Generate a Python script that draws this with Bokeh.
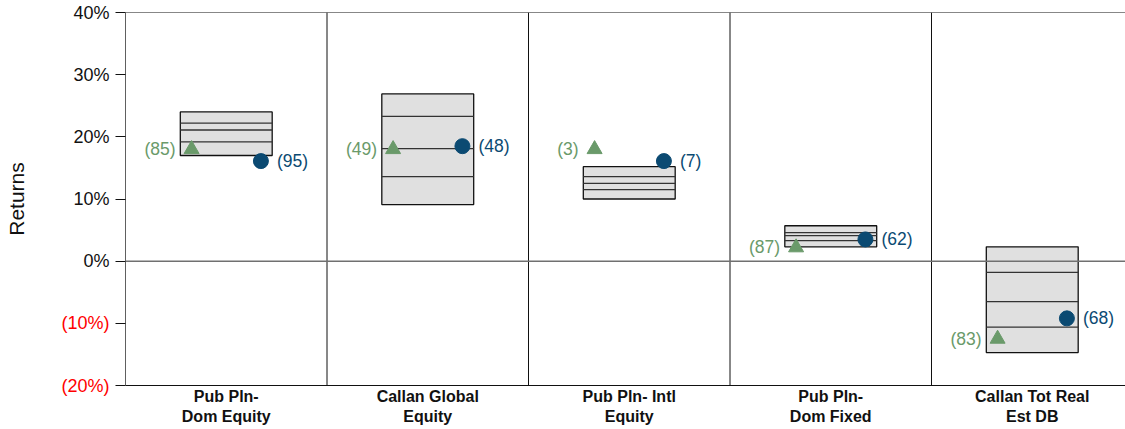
from bokeh.plotting import figure
from bokeh.models import Span, FixedTicker, Range1d, ColumnDataSource, LinearAxis
from bokeh.core.properties import value
from bokeh.embed import file_html
from bokeh.resources import INLINE

categories = ["Pub Pln-\nDom Equity", "Callan Global\nEquity", "Pub Pln- Intl\nEquity",
              "Pub Pln-\nDom Fixed", "Callan Tot Real\nEst DB"]
pct10 = [24.0, 26.9, 15.2, 5.7, 2.3]
pct25 = [22.2, 23.3, 13.6, 4.6, -1.8]
median = [21.1, 18.1, 12.5, 4.1, -6.5]
pct75 = [19.2, 13.6, 11.5, 3.3, -10.6]
pct90 = [17.0, 9.1, 10.0, 2.3, -14.7]
index_returns = [18.0, 18.0, 18.0, 2.2, -12.5]
index_ranks = ["(85)", "(49)", "(3)", "(87)", "(83)"]
fund_returns = [16.1, 18.5, 16.1, 3.5, -9.2]
fund_ranks = ["(95)", "(48)", "(7)", "(62)", "(68)"]
y_ticks = [-20, -10, 0, 10, 20, 30, 40]
y_tick_labels = ["(20%)", "(10%)", "0%", "10%", "20%", "30%", "40%"]

FONT = "Liberation Sans"
n = len(categories)
centers = [i + 0.5 for i in range(n)]
half_w = 0.228
mk_off = 0.172

W, H = 1125, 429
p = figure(width=W, height=H, output_backend="svg", toolbar_location=None,
           x_range=Range1d(0, (W - 125) / 201.5), y_range=Range1d(-20, 40),
           min_border_left=125, min_border_top=12, min_border_right=0, min_border_bottom=44)
p.outline_line_color = None
p.xgrid.visible = False
p.ygrid.visible = False
p.background_fill_color = "white"
p.border_fill_color = "white"

# boxes
box_src = ColumnDataSource(dict(
    left=[c - half_w for c in centers], right=[c + half_w for c in centers],
    top=pct10, bottom=pct90))
p.quad(left="left", right="right", top="top", bottom="bottom", source=box_src,
       fill_color="#e0e0e0", line_color="#111111", line_width=1.3)
for arr in (pct25, median, pct75):
    p.segment(x0=[c - half_w for c in centers], x1=[c + half_w for c in centers],
              y0=arr, y1=arr, line_color="#333333", line_width=1.3)

# dividers, zero line, top border
for i in range(1, n):
    p.add_layout(Span(location=i, dimension="height", line_color="#111111", line_width=1))
p.add_layout(Span(location=0, dimension="width", line_color="#707070", line_width=1.5))
p.add_layout(Span(location=40, dimension="width", line_color="#111111", line_width=1))

# markers
ix = [c - mk_off for c in centers]
fx = [c + mk_off for c in centers]
p.scatter(x=ix, y=index_returns, marker="triangle", size=15, fill_color="#6a9a6a",
          line_color="#6a9a6a")
p.scatter(x=fx, y=fund_returns, marker="circle", size=15, fill_color="#0b4a72",
          line_color="#0b4a72")
p.text(x=ix, y=index_returns, text=index_ranks, x_offset=-16, text_align="right",
       text_baseline="middle", text_color="#6a9a6a", text_font=value(FONT),
       text_font_size="17.5px")
p.text(x=fx, y=fund_returns, text=fund_ranks, x_offset=16, text_align="left",
       text_baseline="middle", text_color="#0b4a72", text_font=value(FONT),
       text_font_size="17.5px")

# inner y axis: ticks + black labels for non-negative values
ya = p.yaxis[0]
ya.ticker = FixedTicker(ticks=y_ticks)
ya.major_label_overrides = {t: (l if t >= 0 else "") for t, l in zip(y_ticks, y_tick_labels)}
ya.major_tick_out = 10
ya.major_tick_in = 0
ya.minor_tick_out = 0
ya.minor_tick_in = 0
ya.major_label_standoff = 6
ya.major_label_text_font = FONT
ya.major_label_text_font_size = "18px"
ya.major_label_text_color = "#111111"
ya.axis_line_color = "#606060"
ya.major_tick_line_color = "#111111"

# outer y axis: red labels for negative values + title
neg_ticks = [t for t in y_ticks if t < 0]
ya2 = LinearAxis(ticker=FixedTicker(ticks=neg_ticks),
                 major_label_overrides={t: l for t, l in zip(y_ticks, y_tick_labels) if t < 0})
ya2.axis_line_color = None
ya2.major_tick_line_color = None
ya2.major_tick_out = 0
ya2.major_tick_in = 0
ya2.minor_tick_out = 0
ya2.minor_tick_in = 0
ya2.major_label_standoff = -39
ya2.major_label_text_font = FONT
ya2.major_label_text_font_size = "18px"
ya2.major_label_text_color = "#ff0000"
ya2.axis_label = "Returns"
ya2.axis_label_text_font = FONT
ya2.axis_label_text_font_size = "21px"
ya2.axis_label_text_font_style = "normal"
ya2.axis_label_text_color = "#111111"
ya2.axis_label_standoff = 30
p.add_layout(ya2, "left")

# x axis
xa = p.xaxis[0]
xa.ticker = FixedTicker(ticks=centers)
xa.major_label_overrides = {c: l for c, l in zip(centers, categories)}
xa.major_tick_out = 0
xa.major_tick_in = 0
xa.minor_tick_out = 0
xa.minor_tick_in = 0
xa.major_label_standoff = 2
xa.major_label_text_font = FONT
xa.major_label_text_font_size = "16px"
xa.major_label_text_font_style = "bold"
xa.major_label_text_color = "#111111"
xa.axis_line_color = "#111111"

open("out.html", "w").write(file_html(p, INLINE))
